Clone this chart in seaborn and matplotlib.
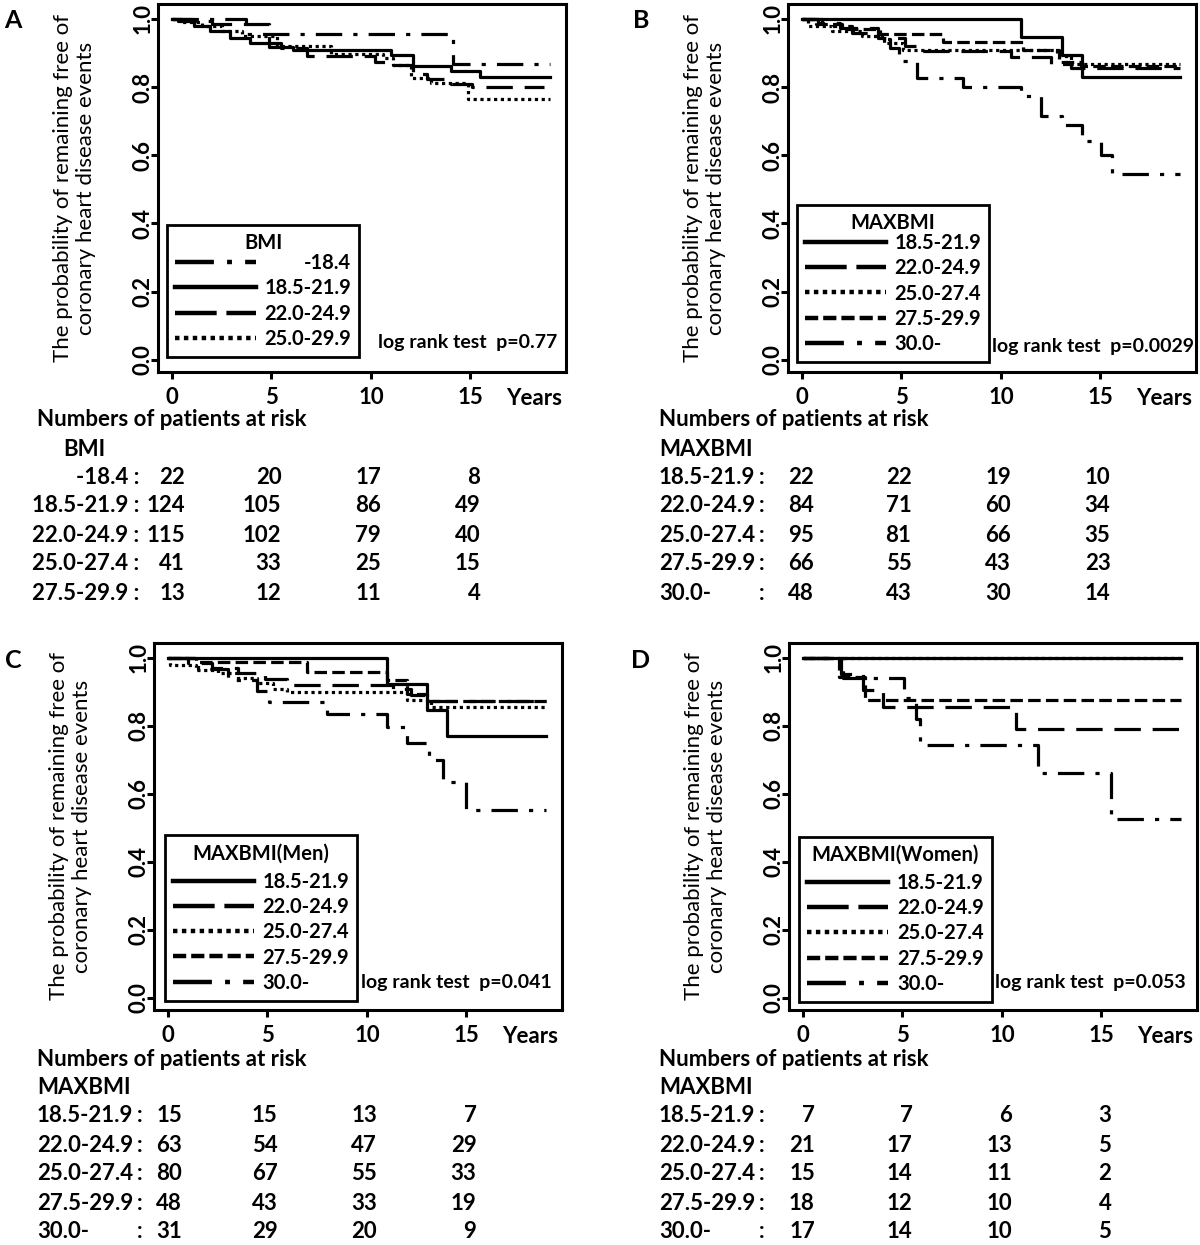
import matplotlib
matplotlib.use("Agg")
import matplotlib.pyplot as plt
from matplotlib.lines import Line2D
from matplotlib.transforms import blended_transform_factory
import seaborn as sns

# ------------------------------------------------------------------ data
X_TICKS = [0, 5, 10, 15]
Y_TICKS = [0.0, 0.2, 0.4, 0.6, 0.8, 1.0]

# Panel A (BMI)
A_LABELS = ["-18.4", "18.5-21.9", "22.0-24.9", "25.0-29.9"]
A_T1 = [0, 3.7, 14.1, 19.0]
A_S1 = [1.0, 0.955, 0.867, 0.867]
A_T2 = [0, 0.3, 1.1, 1.9, 2.9, 3.9, 4.9, 6.1, 11.0, 12.1, 14.0, 15.5, 19.0]
A_S2 = [1.0, 0.994, 0.979, 0.965, 0.945, 0.93, 0.918, 0.908, 0.893, 0.862, 0.847, 0.83, 0.83]
A_T3 = [0, 1.0, 2.0, 4.9, 5.5, 6.8, 10.2, 11.0, 12.1, 12.8, 14.0, 15.1, 18.7]
A_S3 = [1.0, 0.994, 0.985, 0.93, 0.915, 0.891, 0.875, 0.865, 0.84, 0.823, 0.808, 0.80, 0.80]
A_T4 = [0, 0.5, 1.5, 2.5, 3.5, 5.3, 8.0, 10.6, 11.1, 12.0, 13.0, 14.9, 19.0]
A_S4 = [1.0, 0.99, 0.98, 0.965, 0.95, 0.92, 0.898, 0.885, 0.866, 0.827, 0.812, 0.766, 0.766]

# Panel B (MAXBMI)
B_LABELS = ["18.5-21.9", "22.0-24.9", "25.0-27.4", "27.5-29.9", "30.0-"]
B_T1 = [0, 11.0, 13.05, 14.05, 19.0]
B_S1 = [1.0, 0.946, 0.894, 0.831, 0.831]
B_T2 = [0, 0.8, 1.9, 3.8, 5.2, 6.0, 10.5, 12.5, 13.5, 19.0]
B_S2 = [1.0, 0.988, 0.975, 0.945, 0.92, 0.905, 0.888, 0.868, 0.855, 0.855]
B_T3 = [0, 0.3, 1.5, 3.0, 4.1, 5.1, 12.8, 13.5, 19.0]
B_S3 = [1.0, 0.98, 0.965, 0.95, 0.93, 0.91, 0.89, 0.868, 0.868]
B_T4 = [0, 0.7, 2.0, 3.9, 7.1, 11.1, 12.9, 14.0, 19.0]
B_S4 = [1.0, 0.985, 0.97, 0.956, 0.933, 0.91, 0.875, 0.862, 0.862]
B_T5 = [0, 1.0, 2.5, 3.8, 4.4, 4.9, 5.8, 8.1, 11.0, 12.0, 13.05, 14.05, 15.05, 15.6, 19.0]
B_S5 = [1.0, 0.98, 0.96, 0.94, 0.915, 0.877, 0.828, 0.80, 0.773, 0.716, 0.69, 0.643, 0.60, 0.545, 0.545]

# Panel C (MAXBMI, men)
C_T1 = [0, 11.0, 13.0, 14.0, 19.0]
C_S1 = [1.0, 0.923, 0.846, 0.769, 0.769]
C_T2 = [0, 1.0, 2.2, 3.5, 4.9, 6.0, 11.3, 12.2, 13.0, 19.0]
C_S2 = [1.0, 0.984, 0.97, 0.955, 0.937, 0.92, 0.91, 0.89, 0.872, 0.872]
C_T3 = [0, 0.1, 1.4, 2.5, 3.5, 4.5, 5.3, 6.0, 12.0, 13.2, 19.0]
C_S3 = [1.0, 0.978, 0.965, 0.955, 0.94, 0.925, 0.91, 0.899, 0.875, 0.857, 0.857]
C_T4 = [0, 1.4, 7.0, 11.0, 12.0, 13.0, 19.0]
C_S4 = [1.0, 0.988, 0.958, 0.935, 0.895, 0.872, 0.872]
C_T5 = [0, 1.5, 3.0, 4.5, 5.1, 8.0, 11.0, 12.0, 13.1, 13.8, 15.0, 19.0]
C_S5 = [1.0, 0.968, 0.935, 0.903, 0.871, 0.836, 0.797, 0.749, 0.70, 0.634, 0.552, 0.552]

# Panel D (MAXBMI, women)
D_T1 = [0, 19.0]
D_S1 = [1.0, 1.0]
D_T2 = [0, 1.9, 3.0, 4.0, 10.7, 19.0]
D_S2 = [1.0, 0.952, 0.905, 0.857, 0.791, 0.791]
D_T3 = [0, 19.0]
D_S3 = [1.0, 1.0]
D_T4 = [0, 1.8, 3.1, 19.0]
D_S4 = [1.0, 0.944, 0.875, 0.875]
D_T5 = [0, 2.0, 5.1, 5.7, 5.9, 11.8, 15.5, 19.0]
D_S5 = [1.0, 0.941, 0.882, 0.82, 0.745, 0.66, 0.525, 0.525]

# numbers at risk
A_RISK_ROWS = ["-18.4", "18.5-21.9", "22.0-24.9", "25.0-27.4", "27.5-29.9"]
A_RISK = [[22, 20, 17, 8], [124, 105, 86, 49], [115, 102, 79, 40],
          [41, 33, 25, 15], [13, 12, 11, 4]]
MAX_RISK_ROWS = ["18.5-21.9", "22.0-24.9", "25.0-27.4", "27.5-29.9", "30.0-"]
B_RISK = [[22, 22, 19, 10], [84, 71, 60, 34], [95, 81, 66, 35],
          [66, 55, 43, 23], [48, 43, 30, 14]]
C_RISK = [[15, 15, 13, 7], [63, 54, 47, 29], [80, 67, 55, 33],
          [48, 43, 33, 19], [31, 29, 20, 9]]
D_RISK = [[7, 7, 6, 3], [21, 17, 13, 5], [15, 14, 11, 2],
          [18, 12, 10, 4], [17, 14, 10, 5]]

P_TEXT = ["log rank test  p=0.77", "log rank test  p=0.0029",
          "log rank test  p=0.041", "log rank test  p=0.053"]
LEG_TITLES = ["BMI", "MAXBMI", "MAXBMI(Men)", "MAXBMI(Women)"]
YLABEL = "The probability of remaining free of\ncoronary heart disease events"

# ------------------------------------------------------------------ style
plt.rcParams["font.family"] = ["Lato", "DejaVu Sans"]
plt.rcParams["font.weight"] = "bold"
plt.rcParams["lines.scale_dashes"] = False

W, H = 1200, 1245
fig = plt.figure(figsize=(W / 100, H / 100), dpi=100)

FS = 16      # axis / table text
LFS = 14.5   # legend text
PFS = 14     # log-rank text

# line styles (plot, legend)
SOLID = ("-", "-")
LONGDASH = ((0, (19, 8.5)), (0, (30, 7)))
DOTTED = ((0, (2.3, 2.6)), (0, (3.2, 3.2)))
DASHED = ((0, (9, 3.8)), (0, (9.5, 3.6)))
DASHDOT = ((0, (19, 8, 3, 8)), (0, (28, 9.5, 3.5, 9.5)))

XL = (-0.7, 19.8)
YL = (-0.036, 1.044)
PXW = 408


def make_ax(left, top, bottom):
    return fig.add_axes([left / W, 1 - bottom / H, PXW / W, (bottom - top) / H])


def style_ax(ax):
    ax.set_xlim(*XL)
    ax.set_ylim(*YL)
    ax.set_xticks(X_TICKS)
    ax.set_yticks(Y_TICKS)
    ax.set_xticklabels([str(v) for v in X_TICKS])
    ax.set_yticklabels(["%.1f" % v for v in Y_TICKS])
    for s in ax.spines.values():
        s.set_linewidth(2.2)
        s.set_color("black")
    ax.tick_params(axis="both", direction="out", length=5, width=2.2,
                   labelsize=FS, colors="black")
    ax.tick_params(axis="x", pad=6)
    ax.tick_params(axis="y", pad=-1.5, labelrotation=90)
    for lab in ax.get_yticklabels():
        lab.set_va("center")
        lab.set_ha("right")
    ax.set_xlabel("")
    ax.set_ylabel(YLABEL, fontsize=FS, linespacing=1.22, va="center")
    ax.yaxis.set_label_coords(-0.205, 0.5)
    ax.text(18.2, -0.072, "Years", transform=blended_transform_factory(ax.transData, ax.transAxes),
            ha="center", va="center", fontsize=FS)


def km(ax, t, s, ls):
    sns.lineplot(x=t, y=s, ax=ax, estimator=None, sort=False, color="black",
                 linewidth=2.3, linestyle=ls, drawstyle="steps-post")


def legend(ax, title, labels, styles, anchor, sep):
    handles = [Line2D([], [], color="black", lw=3.2, linestyle=st[1]) for st in styles]
    leg = ax.legend(handles, labels, title=title, loc="lower left",
                    bbox_to_anchor=anchor, bbox_transform=ax.transAxes,
                    borderaxespad=0, frameon=True, fancybox=False,
                    edgecolor="black", framealpha=1, fontsize=LFS,
                    title_fontsize=LFS, handlelength=4.0, handletextpad=0.45,
                    labelspacing=0.26, borderpad=0.4)
    leg.get_frame().set_linewidth(2.0)
    leg.get_title().set_fontweight("bold")
    leg._legend_box.sep = sep  # gap between title and entries (points)
    return leg


def risk_table(ax, top_px, group, rows, risk, right_style, x_left, colon_px, off0=0.5):
    ft = lambda y: 1 - y / H
    fig.text(x_left / W, ft(top_px), "Numbers of patients at risk", ha="left",
             va="center", fontsize=FS)
    gx = x_left + (26 if right_style else 0)
    fig.text(gx / W, ft(top_px + 29), group, ha="left", va="center", fontsize=FS)
    tr = blended_transform_factory(ax.transData, fig.transFigure)
    for i, (lab, vals) in enumerate(zip(rows, risk)):
        y = top_px + 57 + i * 29
        if right_style:
            fig.text(colon_px / W, ft(y), lab + " :", ha="right", va="center", fontsize=FS)
        else:
            fig.text(x_left / W, ft(y), lab, ha="left", va="center", fontsize=FS)
            fig.text(colon_px / W, ft(y), ":", ha="right", va="center", fontsize=FS)
        for j, (xv, v) in enumerate(zip(X_TICKS, vals)):
            off = off0 if j == 0 else 0.5
            ax.text(xv + off, ft(y), str(v), transform=tr, ha="right", va="center",
                    fontsize=FS)


# ------------------------------------------------------------------ panels
axA = make_ax(158, 4, 372)
axB = make_ax(788, 4, 372)
axC = make_ax(154, 643, 1010)
axD = make_ax(789, 643, 1010)

km(axA, A_T1, A_S1, DASHDOT[0])
km(axA, A_T2, A_S2, SOLID[0])
km(axA, A_T3, A_S3, LONGDASH[0])
km(axA, A_T4, A_S4, DOTTED[0])
for t, s, st in [(B_T1, B_S1, SOLID), (B_T2, B_S2, LONGDASH), (B_T3, B_S3, DOTTED),
                 (B_T4, B_S4, DASHED), (B_T5, B_S5, DASHDOT)]:
    km(axB, t, s, st[0])
for t, s, st in [(C_T1, C_S1, SOLID), (C_T2, C_S2, LONGDASH), (C_T3, C_S3, DOTTED),
                 (C_T4, C_S4, DASHED), (C_T5, C_S5, DASHDOT)]:
    km(axC, t, s, st[0])
for t, s, st in [(D_T1, D_S1, SOLID), (D_T2, D_S2, LONGDASH), (D_T3, D_S3, DOTTED),
                 (D_T4, D_S4, DASHED), (D_T5, D_S5, DASHDOT)]:
    km(axD, t, s, st[0])

for ax in (axA, axB, axC, axD):
    style_ax(ax)

legA = legend(axA, LEG_TITLES[0], A_LABELS, [DASHDOT, SOLID, LONGDASH, DOTTED], (0.022, 0.041), 0.0)
legB = legend(axB, LEG_TITLES[1], B_LABELS, [SOLID, LONGDASH, DOTTED, DASHED, DASHDOT], (0.022, 0.027), 0.0)
legC = legend(axC, LEG_TITLES[2], B_LABELS, [SOLID, LONGDASH, DOTTED, DASHED, DASHDOT], (0.027, 0.025), 6.0)
legD = legend(axD, LEG_TITLES[3], B_LABELS, [SOLID, LONGDASH, DOTTED, DASHED, DASHDOT], (0.025, 0.022), 6.0)

for ax, txt, xr, yc in [(axA, P_TEXT[0], 0.978, 0.079), (axB, P_TEXT[1], 0.995, 0.069),
                        (axC, P_TEXT[2], 0.975, 0.074), (axD, P_TEXT[3], 0.971, 0.074)]:
    ax.text(xr, yc, txt, transform=ax.transAxes, ha="right", va="center", fontsize=PFS)

for lx, ly, L in [(13, 20, "A"), (641, 20, "B"), (13, 660, "C"), (641, 660, "D")]:
    fig.text(lx / W, 1 - ly / H, L, ha="center", va="center", fontsize=18)

risk_table(axA, 420, "BMI", A_RISK_ROWS, A_RISK, True, 37, 139, off0=0.65)
risk_table(axB, 420, "MAXBMI", MAX_RISK_ROWS, B_RISK, False, 659, 765, off0=0.6)
risk_table(axC, 1059, "MAXBMI", MAX_RISK_ROWS, C_RISK, False, 37, 142, off0=0.7)
risk_table(axD, 1059, "MAXBMI", MAX_RISK_ROWS, D_RISK, False, 659, 765, off0=0.6)

# right-align the labels of legend A
fig.canvas.draw()
texts = legA.get_texts()
widths = [t.get_window_extent().width for t in texts]
wmax = max(widths)
for t, w in zip(texts, widths):
    t.set_x(wmax - w)

fig.savefig("out.png", dpi=100)
